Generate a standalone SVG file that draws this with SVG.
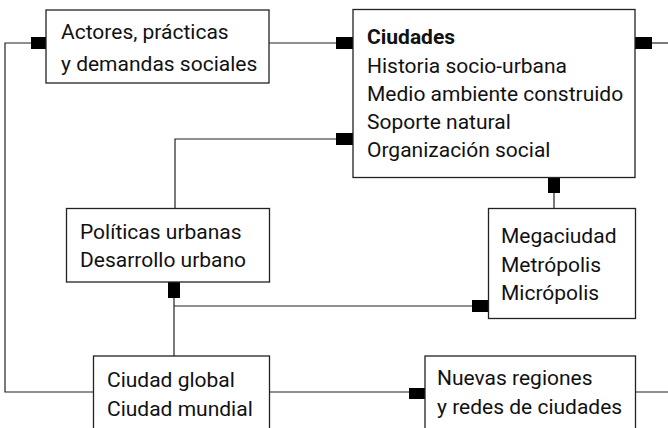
<svg xmlns="http://www.w3.org/2000/svg" width="668" height="428" viewBox="0 0 668 428">
<style>
.box{fill:#fff;stroke:#222;stroke-width:1.3}
.ln{fill:none;stroke:#222;stroke-width:1.2}
.mk{fill:#000}
text{font-family:Roboto,"Liberation Sans",Arial,sans-serif;font-size:21px;fill:#111}
.b{font-weight:bold}
</style>
<rect width="668" height="428" fill="#fff"/>
<g id="connectors">
<polyline class="ln" points="46,43 5,43 5,392 93,392"/>
<line class="ln" x1="269" y1="43" x2="336" y2="43"/>
<line class="ln" x1="652" y1="43" x2="668" y2="43"/>
<polyline class="ln" points="336,139 175,139 175,208"/>
<line class="ln" x1="554" y1="193" x2="554" y2="208"/>
<line class="ln" x1="174" y1="298" x2="174" y2="356"/>
<line class="ln" x1="174" y1="306" x2="472" y2="306"/>
<line class="ln" x1="269" y1="392" x2="409" y2="392"/>
<line class="ln" x1="635" y1="392" x2="668" y2="392"/>
<rect class="mk" x="31" y="37" width="15" height="12"/>
<rect class="mk" x="336" y="37" width="17" height="12"/>
<rect class="mk" x="635" y="37" width="17" height="12"/>
<rect class="mk" x="336" y="133" width="17" height="12"/>
<rect class="mk" x="548" y="177" width="12" height="16"/>
<rect class="mk" x="168" y="282" width="12" height="16"/>
<rect class="mk" x="472" y="300" width="16" height="12"/>
<rect class="mk" x="409" y="388" width="16" height="11"/>
</g>
<g id="actores">
<rect class="box" x="46" y="10" width="223" height="73"/>
<text x="61" y="39">Actores, prácticas</text>
<text x="61" y="70.5">y demandas sociales</text>
</g>
<g id="ciudades">
<rect class="box" x="353" y="9.5" width="282" height="168"/>
<text x="367" y="44" class="b">Ciudades</text>
<text x="367" y="73">Historia socio-urbana</text>
<text x="367" y="100.7">Medio ambiente construido</text>
<text x="367" y="129">Soporte natural</text>
<text x="367" y="156.7">Organización social</text>
</g>
<g id="politicas">
<rect class="box" x="66.5" y="208.5" width="203" height="73.5"/>
<text x="80" y="239.3">Políticas urbanas</text>
<text x="80" y="266.7">Desarrollo urbano</text>
</g>
<g id="megaciudad">
<rect class="box" x="488.5" y="208.5" width="147" height="110"/>
<text x="501" y="243.3">Megaciudad</text>
<text x="501" y="271.7">Metrópolis</text>
<text x="501" y="300">Micrópolis</text>
</g>
<g id="ciudad-global">
<rect class="box" x="93.5" y="356" width="176" height="90"/>
<text x="107" y="386.7">Ciudad global</text>
<text x="107" y="416">Ciudad mundial</text>
</g>
<g id="nuevas-regiones">
<rect class="box" x="425" y="356" width="210.5" height="90"/>
<text x="437" y="385.3">Nuevas regiones</text>
<text x="437" y="414">y redes de ciudades</text>
</g>
</svg>
